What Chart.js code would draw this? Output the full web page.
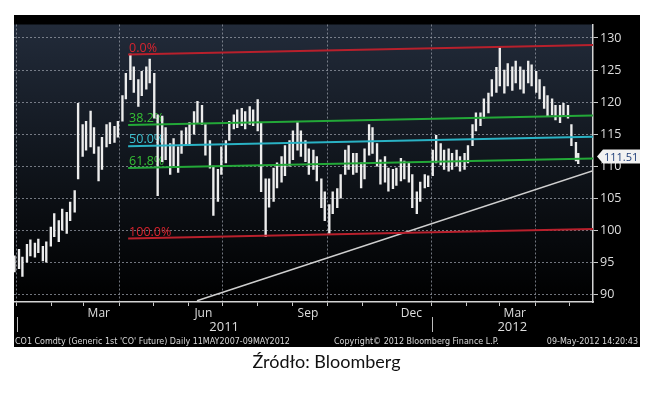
<!DOCTYPE html>
<html>
<head>
<meta charset="utf-8">
<script src="https://cdn.jsdelivr.net/npm/chart.js@4.4.0/dist/chart.umd.min.js"></script>
<style>
  body { margin: 0; background: #fff; width: 653px; height: 404px; overflow: hidden; position: relative; }
  #box { position: absolute; left: 14px; top: 15px; width: 626px; height: 332px; background: #000; }
  #c { position: absolute; left: 0; top: 0; }
  .foot { position: absolute; top: 322px; font: 8px "DejaVu Sans"; color: #d8d8d8; white-space: nowrap; }
  #src { position: absolute; top: 350px; left: 0; width: 653px; text-align: center; font: 18px Lato; color: #111; }
</style>
</head>
<body>
<div id="box">
  <canvas id="c" width="626" height="332"></canvas>
  <div class="foot" style="left:1px">CO1 Comdty (Generic 1st 'CO' Future) Daily 11MAY2007-09MAY2012</div>
  <div class="foot" style="left:320px">Copyright© 2012 Bloomberg Finance L.P.</div>
  <div class="foot" style="right:2px">09-May-2012 14:20:43</div>
</div>
<div id="src">Źródło: Bloomberg</div>
<script>
// days counted from 1 Jan 2011, two bars a week (Thu / Mon)
var days = [-2,2,5,9,12,16,19,23,26,30,33,37,40,44,47,51,54,58,61,65,68,72,75,79,82,86,89,93,96,100,
  103,107,110,114,117,121,124,128,131,135,138,142,145,149,152,156,159,163,166,170,173,177,180,184,187,191,194,198,201,205,
  208,212,215,219,222,226,229,233,236,240,243,247,250,254,257,261,264,268,271,275,278,282,285,289,292,296,299,303,306,310,
  313,317,320,324,327,331,334,338,341,345,348,352,355,359,362,366,369,373,376,380,383,387,390,394,397,401,404,408,411,415,
  418,422,425,429,432,436,439,443,446,450,453,457,460,464,467,471,474,478,481,485,488,492,494];
var lows = [93.5,94.0,92.8,95.0,96.0,95.8,96.5,95.2,95.0,97.5,99.0,98.2,100.0,99.5,101.5,102.8,108.0,111.5,112.5,113.0,
  112.0,107.7,109.5,113.0,113.5,113.7,114.5,117.0,120.5,123.5,121.5,119.3,121.0,122.0,123.0,117.5,105.4,110.7,111.0,108.7,
  110.0,109.0,112.0,113.2,113.5,115.0,116.8,116.5,111.7,109.7,102.3,104.5,108.7,110.5,114.0,115.8,116.0,116.3,115.8,116.5,
  116.3,115.5,106.0,99.0,103.6,104.5,106.6,107.5,108.5,110.0,111.0,112.5,111.5,110.7,108.7,109.5,107.7,103.5,101.5,99.5,
  102.6,103.5,105.0,108.7,109.5,108.7,109.0,106.6,108.0,111.7,112.0,110.0,107.2,107.5,106.1,106.5,107.0,107.7,108.0,107.5,
  103.5,102.6,104.5,106.6,106.8,108.5,110.5,110.2,109.5,109.2,109.5,110.0,109.2,109.5,110.5,113.2,115.5,116.3,117.5,118.3,
  120.9,121.5,122.5,121.4,122.5,121.8,123.0,122.0,121.4,123.0,122.5,121.5,120.5,119.0,117.8,118.0,117.2,116.8,118.0,117.5,
  113.2,110.8,110.4];
var highs = [96.0,97.0,95.8,97.8,98.5,98.0,98.6,97.5,98.2,100.5,102.6,101.5,103.3,102.8,104.4,106.2,119.8,116.5,117.0,118.6,
  116.0,113.0,114.5,116.5,116.8,116.2,117.0,121.0,124.5,127.5,125.5,123.5,124.8,125.5,126.7,124.5,118.0,117.8,116.0,113.5,
  114.3,113.0,115.5,116.0,116.8,118.5,120.1,119.5,116.5,114.0,110.0,109.5,113.0,114.0,117.0,118.0,118.8,119.0,118.5,119.3,
  118.8,120.4,116.8,108.0,108.0,109.7,110.5,111.5,113.2,114.0,115.5,116.8,115.5,114.0,112.7,112.5,111.5,108.0,106.0,104.0,
  106.0,106.5,108.7,112.5,113.2,112.0,112.0,110.5,112.7,116.5,116.0,113.5,111.0,111.5,109.7,109.5,109.7,111.2,110.8,110.5,
  108.7,106.0,107.5,108.7,108.5,112.5,114.8,113.5,112.5,112.7,112.0,112.5,111.5,112.0,113.2,116.5,118.3,118.3,120.5,121.4,
  123.5,125.4,128.5,125.0,126.0,125.5,126.4,125.5,125.0,126.4,125.8,124.8,123.5,122.4,121.0,120.5,119.5,119.5,119.8,119.5,
  116.5,113.7,112.0];
var lastPrice = 111.51;

// fibonacci retracement lines (start / end day, start / end level)
var fibNames = ["0.0%", "38.2%", "50.0%", "61.8%", "100.0%"];
var fibFrom = [98, 507];
var fibStart = [127.4, 116.4, 113.1, 109.7, 98.7];
var fibEnd = [128.9, 117.9, 114.6, 111.2, 100.2];
var fibColors = ["#b8202c", "#23a838", "#2ab2c4", "#23a838", "#b8202c"];
var fibTextColors = ["#d8242f", "#35c035", "#3cc2d2", "#35c035", "#d8242f"];

// trend line
var trendDays = [158.6, 507];
var trendVals = [89.0, 109.3];

var monthTicks = [0,31,59,90,120,151,181,212,243,273,304,334,365,396,425,456,486];
var monthNames = ["","","Mar","","","Jun","","","Sep","","","Dec","","","Mar","",""];
var quarterLines = [0,90,181,273,365,456];
var yTicks = [90,92.5,95,97.5,100,102.5,105,107.5,110,112.5,115,117.5,120,122.5,125,127.5,130];
var years = ["2011", "2012"];
var yearBounds = [0, 365, 507];

var gridCol = "rgba(150,155,165,0.75)";

var extras = {
  id: "extras",
  beforeDraw: function(chart) {
    var ctx = chart.ctx, a = chart.chartArea;
    var g = ctx.createLinearGradient(0, a.top, 0, a.bottom);
    g.addColorStop(0, "#222b3a");
    g.addColorStop(0.5, "#10151c");
    g.addColorStop(1, "#000");
    ctx.save();
    ctx.fillStyle = g;
    ctx.fillRect(a.left, a.top, a.right - a.left, a.bottom - a.top);
    ctx.restore();
  },
  beforeDatasetsDraw: function(chart) {
    var ctx = chart.ctx, xs = chart.scales.x, ys = chart.scales.y;
    ctx.save();
    ctx.font = "12.5px 'Open Sans'";
    ctx.textBaseline = "alphabetic";
    for (var i = 0; i < fibNames.length; i++) {
      ctx.fillStyle = fibTextColors[i];
      ctx.fillText(fibNames[i], xs.getPixelForValue(fibFrom[0]) + 1, ys.getPixelForValue(fibStart[i]) - 3);
    }
    ctx.restore();
  },
  afterDraw: function(chart) {
    var ctx = chart.ctx, xs = chart.scales.x, ys = chart.scales.y, a = chart.chartArea;
    ctx.save();
    // years row
    ctx.font = "13px 'Open Sans'";
    ctx.fillStyle = "#dedede";
    ctx.textAlign = "center";
    ctx.textBaseline = "middle";
    for (var i = 0; i < years.length; i++) {
      var x1 = xs.getPixelForValue(yearBounds[i]), x2 = xs.getPixelForValue(yearBounds[i + 1]);
      ctx.fillText(years[i], (x1 + x2) / 2, 312);
    }
    ctx.strokeStyle = "#bdbdbd";
    ctx.lineWidth = 1;
    [0, 1].forEach(function(i) {
      var x = Math.round(xs.getPixelForValue(yearBounds[i])) + 0.5;
      ctx.beginPath(); ctx.moveTo(x, 302); ctx.lineTo(x, 317); ctx.stroke();
    });
    // last price tag
    var y = ys.getPixelForValue(lastPrice);
    var tip = a.right + 4;
    ctx.fillStyle = "#f2f2f2";
    ctx.beginPath();
    ctx.moveTo(tip, y);
    ctx.lineTo(tip + 6, y - 7);
    ctx.lineTo(626, y - 7);
    ctx.lineTo(626, y + 7);
    ctx.lineTo(tip + 6, y + 7);
    ctx.closePath();
    ctx.fill();
    ctx.fillStyle = "#1c3c78";
    ctx.font = "11px 'Open Sans'";
    ctx.textAlign = "left";
    ctx.fillText(lastPrice.toFixed(2), tip + 7, y + 1);
    ctx.restore();
  }
};

var datasets = [];
for (var i = 0; i < fibNames.length; i++) {
  datasets.push({
    type: "line",
    data: [{x: fibFrom[0], y: fibStart[i]}, {x: fibFrom[1], y: fibEnd[i]}],
    borderColor: fibColors[i],
    borderWidth: 2,
    pointRadius: 0,
    order: 0
  });
}
datasets.push({
  type: "line",
  data: [{x: trendDays[0], y: trendVals[0]}, {x: trendDays[1], y: trendVals[1]}],
  borderColor: "#cfcfcf",
  borderWidth: 1.5,
  pointRadius: 0,
  order: 0
});
datasets.push({
  type: "bar",
  data: days.map(function(d, i) { return {x: d, y: [lows[i], highs[i]]}; }),
  backgroundColor: "#ededed",
  borderWidth: 0,
  barThickness: 1.7,
  order: 1
});

new Chart(document.getElementById("c"), {
  type: "bar",
  data: { datasets: datasets },
  plugins: [extras],
  options: {
    responsive: false,
    animation: false,
    layout: { padding: { top: 2, left: 0, right: 0, bottom: 0 } },
    plugins: { legend: { display: false }, tooltip: { enabled: false } },
    scales: {
      x: {
        type: "linear",
        min: -2.4,
        max: 507,
        offset: false,
        afterBuildTicks: function(s) { s.ticks = monthTicks.map(function(v) { return {value: v}; }); },
        afterFit: function(s) { s.height = 45; },
        grid: {
          offset: false,
          color: function(c) { return c.tick && quarterLines.indexOf(c.tick.value) >= 0 ? gridCol : "rgba(0,0,0,0)"; },
          tickColor: "#c8c8c8",
          tickLength: 4
        },
        border: { color: "#d4d4d4", width: 1.5, dash: [2, 2] },
        ticks: {
          color: "#dedede",
          font: { family: "Open Sans", size: 12 },
          padding: 0,
          labelOffset: 15,
          maxRotation: 0,
          autoSkip: false,
          callback: function(v) { var k = monthTicks.indexOf(v); return k >= 0 ? monthNames[k] : ""; }
        }
      },
      y: {
        position: "right",
        min: 88.8,
        max: 132.1,
        afterBuildTicks: function(s) { s.ticks = yTicks.map(function(v) { return {value: v}; }); },
        afterFit: function(s) { s.width = 47; },
        grid: {
          color: function(c) { return c.tick && c.tick.value % 5 === 0 ? gridCol : "rgba(0,0,0,0)"; },
          tickColor: "#c8c8c8",
          tickLength: 5
        },
        border: { color: "#d4d4d4", width: 1.5, dash: [2, 2] },
        ticks: {
          color: "#dedede",
          font: { family: "Open Sans", size: 12.5 },
          padding: 2,
          callback: function(v) { return v % 5 === 0 ? v : ""; }
        }
      }
    }
  }
});
</script>
</body>
</html>
